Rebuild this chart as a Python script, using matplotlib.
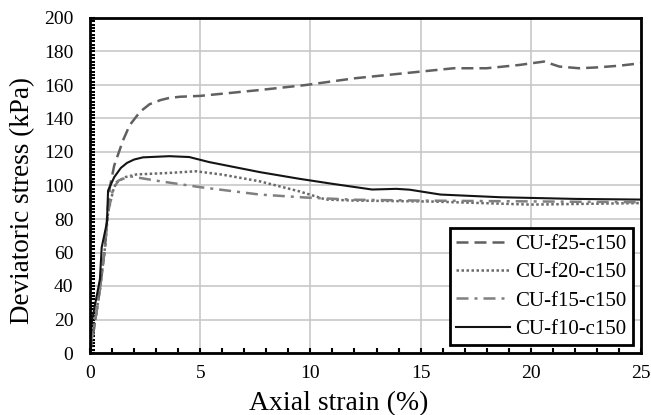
import matplotlib
matplotlib.use("Agg")
import matplotlib.pyplot as plt
from matplotlib.ticker import MultipleLocator

plt.rcParams['font.family'] = ['Liberation Serif', 'DejaVu Serif']

# CU-f25-c150
strain_f25 = [0, 0.15, 0.45, 0.68, 0.8, 0.9, 1.1, 1.5, 1.8, 2.27, 2.7, 3.2, 3.6, 4.1, 5, 7.7, 9.8, 12, 15, 16.5, 18, 19.5, 20.6, 21.3, 22.2, 23, 24, 25]
stress_f25 = [0, 12, 38, 63, 85, 99, 112, 127, 136, 144, 148.5, 151, 152.3, 153, 153.5, 157, 160, 164, 168, 170, 170, 172, 174, 171, 170, 170.5, 171.5, 173]
# CU-f20-c150
strain_f20 = [0, 0.15, 0.45, 0.68, 0.82, 1.05, 1.2, 1.6, 2.1, 3.6, 4.8, 6, 7.7, 9.5, 10.7, 12, 15.6, 20, 25]
stress_f20 = [5, 12, 38, 63, 84, 97, 102, 105, 106.6, 107.5, 108.5, 106.5, 102.5, 96.5, 91.6, 91, 90.4, 88.6, 89.5]
# CU-f15-c150
strain_f15 = [0, 0.15, 0.45, 0.68, 0.82, 1.05, 1.3, 1.8, 3.2, 5, 7.7, 9.8, 12, 15, 20, 25]
stress_f15 = [5, 12, 38, 63, 84, 98, 103, 105.5, 102.5, 99, 94.6, 92.8, 91.5, 91, 90.5, 90]
# CU-f10-c150
strain_f10 = [0, 0.1, 0.45, 0.53, 0.77, 0.82, 1.1, 1.4, 1.68, 2.0, 2.4, 3.6, 4.5, 5.4, 7.7, 9.5, 11, 12.8, 13.9, 14.5, 15.9, 18.6, 22, 25]
stress_f10 = [8, 20, 44, 63, 78, 97, 105, 110.5, 113.5, 115.5, 116.8, 117.5, 117, 114, 108, 104, 101, 97.6, 98, 97.5, 94.6, 93, 92, 91.6]

W, H = 651, 415
fig = plt.figure(figsize=(W / 100, H / 100), dpi=100)
ax = fig.add_axes([90 / W, 62 / H, 551 / W, 335 / H])

ax.plot(strain_f25, stress_f25, color='#606060', lw=1.8, ls=(0, (4.8, 2.4)), label='CU-f25-c150')
ax.plot(strain_f20, stress_f20, color='#6a6a6a', lw=1.8, ls=(0, (1, 1)), label='CU-f20-c150')
ax.plot(strain_f15, stress_f15, color='#808080', lw=1.8, ls=(0, (4.8, 2.4, 1.2, 2.4)), label='CU-f15-c150')
ax.plot(strain_f10, stress_f10, color='#141414', lw=1.5, ls='-', label='CU-f10-c150')

ax.set_xlim(0, 25)
ax.set_ylim(0, 200)
ax.xaxis.set_major_locator(MultipleLocator(5))
ax.xaxis.set_minor_locator(MultipleLocator(1))
ax.yaxis.set_major_locator(MultipleLocator(20))
ax.yaxis.set_minor_locator(MultipleLocator(2))
ax.grid(True, which='major', color='#c8c8c8', lw=1.2)
ax.set_axisbelow(True)

ax.tick_params(which='both', direction='in', top=False, right=False, width=1.5,
               length=3.6, labelsize=14)
ax.tick_params(axis='y', pad=12)
ax.tick_params(axis='x', pad=8.5)
for s in ax.spines.values():
    s.set_linewidth(2)
    s.set_color('black')

fig.text(339 / W, 1 - 410 / H, 'Axial strain (%)', fontsize=20, ha='center', va='baseline')
fig.text(29 / W, 1 - 200 / H, 'Deviatoric stress (kPa)', fontsize=19.5, ha='center',
         va='baseline', rotation=90, rotation_mode='anchor')

leg = ax.legend(loc='lower right', fontsize=15, fancybox=False, framealpha=1,
                edgecolor='black', handlelength=2.6, borderpad=0.3, labelspacing=0.42,
                handletextpad=0.25, borderaxespad=0.38)
leg.get_frame().set_linewidth(2)

fig.savefig('out.png', dpi=100)
